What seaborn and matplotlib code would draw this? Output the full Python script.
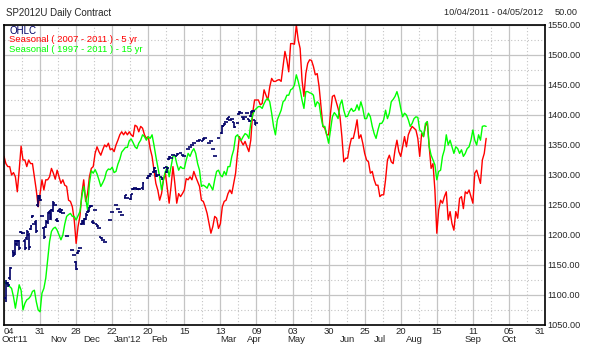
import numpy as np
import pandas as pd
import matplotlib.pyplot as plt
import matplotlib.transforms as mtransforms
import seaborn as sns

# x axis is a trading-day index counted from 10/04/2011
tick_days = [0, 19, 38, 57, 76, 95, 114, 133, 152, 171, 190, 209, 228, 247, 266, 285]
tick_labels = ['04', '31', '28', '22', '20', '15', '13', '09', '03', '30', '25', '20', '15', '11', '05', '31']
month_labels = ["Oct'11", 'Nov', 'Dec', "Jan'12", 'Feb', 'Mar', 'Apr', 'May', 'Jun', 'Jul', 'Aug', 'Sep', 'Oct']
month_days = [5.5, 29, 46, 65, 82, 118, 132, 154, 181, 198, 216, 247, 266]

# Seasonal ( 2007 - 2011 ) - 5 yr
seasonal_5yr = [
    1331, 1319, 1314, 1314, 1300, 1304, 1297, 1272, 1308, 1348,
    1325, 1325, 1314, 1325, 1319, 1319, 1297, 1275, 1247, 1269,
    1292, 1275, 1292, 1292, 1297, 1311, 1303, 1293, 1308, 1297,
    1286, 1292, 1283, 1281, 1258, 1256, 1247, 1225, 1186, 1214,
    1231, 1269, 1292, 1256, 1269, 1297, 1311, 1314, 1336, 1347,
    1339, 1333, 1342, 1350, 1347, 1353, 1342, 1344, 1339, 1350,
    1358, 1367, 1372, 1367, 1372, 1367, 1372, 1367, 1364, 1383,
    1381, 1372, 1381, 1378, 1367, 1361, 1364, 1344, 1331, 1308,
    1286, 1275, 1258, 1269, 1292, 1303, 1278, 1253, 1281, 1314,
    1286, 1253, 1269, 1264, 1269, 1275, 1294, 1292, 1297, 1292,
    1306, 1297, 1289, 1281, 1258, 1256, 1247, 1236, 1219, 1203,
    1214, 1231, 1228, 1211, 1219, 1247, 1256, 1258, 1269, 1275,
    1269, 1286, 1303, 1336, 1364, 1356, 1350, 1356, 1347, 1339,
    1358, 1403, 1425, 1425, 1425, 1417, 1419, 1442, 1433, 1425,
    1447, 1461, 1456, 1456, 1458, 1459, 1456, 1481, 1506, 1492,
    1472, 1519, 1519, 1518, 1550, 1525, 1511, 1458, 1431, 1469,
    1486, 1492, 1491, 1481, 1467, 1469, 1447, 1414, 1381, 1378,
    1367, 1367, 1403, 1431, 1433, 1422, 1411, 1397, 1364, 1322,
    1328, 1328, 1347, 1361, 1361, 1375, 1392, 1361, 1367, 1353,
    1336, 1325, 1322, 1303, 1306, 1292, 1283, 1283, 1264, 1267,
    1267, 1292, 1325, 1333, 1322, 1319, 1342, 1358, 1339, 1331,
    1347, 1364, 1347, 1367, 1375, 1381, 1378, 1375, 1361, 1331,
    1369, 1364, 1381, 1389, 1347, 1311, 1319, 1275, 1203, 1242,
    1258, 1253, 1264, 1272, 1225, 1239, 1219, 1208, 1239, 1228,
    1261, 1264, 1244, 1272, 1269, 1275, 1264, 1253, 1303, 1308,
    1297, 1286, 1325, 1336, 1361,
]

# Seasonal ( 1997 - 2011 ) - 15 yr
seasonal_15yr = [
    1122, 1119, 1117, 1114, 1111, 1097, 1078, 1097, 1117, 1108,
    1075, 1086, 1092, 1094, 1098, 1106, 1108, 1089, 1075, 1072,
    1103, 1111, 1128, 1158, 1189, 1206, 1211, 1213, 1208, 1200,
    1192, 1200, 1218, 1231, 1234, 1236, 1231, 1231, 1225, 1232,
    1239, 1264, 1281, 1261, 1242, 1286, 1307, 1303, 1309, 1302,
    1292, 1281, 1287, 1294, 1306, 1310, 1309, 1313, 1304, 1306,
    1318, 1326, 1338, 1342, 1346, 1346, 1357, 1360, 1354, 1347,
    1344, 1353, 1358, 1367, 1364, 1358, 1364, 1361, 1367, 1350,
    1331, 1314, 1297, 1275, 1292, 1306, 1314, 1297, 1314, 1331,
    1333, 1319, 1308, 1314, 1311, 1311, 1325, 1336, 1331, 1339,
    1344, 1336, 1319, 1308, 1281, 1283, 1281, 1278, 1286, 1281,
    1275, 1292, 1306, 1308, 1300, 1297, 1306, 1300, 1314, 1314,
    1331, 1342, 1364, 1367, 1361, 1358, 1364, 1369, 1367, 1361,
    1386, 1400, 1408, 1411, 1414, 1414, 1411, 1419, 1425, 1428,
    1422, 1403, 1381, 1367, 1392, 1400, 1408, 1422, 1425, 1433,
    1433, 1442, 1444, 1450, 1467, 1456, 1442, 1425, 1411, 1439,
    1439, 1437, 1436, 1433, 1414, 1422, 1419, 1397, 1381, 1381,
    1367, 1353, 1375, 1397, 1404, 1400, 1394, 1417, 1425, 1408,
    1397, 1398, 1406, 1411, 1406, 1408, 1417, 1408, 1422, 1411,
    1394, 1394, 1403, 1397, 1381, 1369, 1361, 1375, 1386, 1386,
    1392, 1408, 1394, 1403, 1422, 1426, 1431, 1439, 1428, 1411,
    1397, 1403, 1400, 1392, 1381, 1386, 1394, 1397, 1396, 1375,
    1372, 1364, 1386, 1389, 1347, 1333, 1325, 1317, 1292, 1306,
    1308, 1331, 1342, 1367, 1350, 1358, 1347, 1336, 1347, 1344,
    1336, 1342, 1331, 1336, 1344, 1347, 1358, 1375, 1358, 1350,
    1367, 1358, 1381, 1382, 1381,
]

# SP2012U daily bars
ohlc_day = [1, 2, 3, 5, 6, 7, 8, 9, 10, 11, 12, 13, 14, 15, 16, 17, 18, 19, 20, 21,
            22, 23, 24, 25, 26, 27, 28, 29, 30, 31, 33, 36, 37, 38, 39, 40, 41, 42, 43, 44,
            45, 46, 47, 48, 49, 50, 51, 52, 53, 56, 57, 59, 60, 61, 62, 64, 65, 67, 68, 69,
            70, 71, 73, 76, 77, 79, 80, 81, 83, 85, 86, 87, 88, 89, 91, 93, 94, 95, 97, 98,
            99, 100, 102, 103, 105, 106, 108, 109, 110, 111, 113, 115, 116, 117, 118, 119, 120, 121, 123, 124,
            125, 126, 127, 128, 129, 130, 131, 132, 133]
ohlc_open = [1095, 1120, 1128, 1172, 1170, 1185, 1190, 1205, 1203, 1190, 1195, 1200, 1210, 1230, 1219, 1222, 1250, 1265, 1231, 1212,
             1213, 1222, 1238, 1230, 1242, 1250, 1225, 1240, 1238, 1236, 1198, 1175, 1167, 1155, 1170, 1179, 1218, 1220, 1226, 1238,
             1240, 1248, 1222, 1242, 1218, 1211, 1197, 1192, 1189, 1225, 1239, 1250, 1243, 1239, 1233, 1262, 1261, 1260, 1276, 1278,
             1276, 1277, 1278, 1295, 1298, 1305, 1306, 1300, 1296, 1312, 1305, 1326, 1328, 1333, 1332, 1336, 1333, 1331, 1344, 1347,
             1350, 1353, 1356, 1358, 1357, 1361, 1353, 1356, 1344, 1331, 1361, 1370, 1382, 1389, 1393, 1392, 1393, 1388, 1386, 1401,
             1403, 1396, 1397, 1403, 1393, 1398, 1407, 1391, 1386]
ohlc_high = [1125, 1122, 1147, 1175, 1192, 1192, 1192, 1206, 1203, 1194, 1208, 1203, 1217, 1233, 1219, 1225, 1267, 1267, 1231, 1214,
             1225, 1239, 1242, 1244, 1256, 1250, 1228, 1244, 1243, 1236, 1198, 1175, 1167, 1156, 1175, 1179, 1225, 1228, 1236, 1242,
             1247, 1250, 1225, 1242, 1219, 1211, 1197, 1192, 1189, 1225, 1239, 1250, 1243, 1239, 1233, 1267, 1261, 1269, 1278, 1278,
             1278, 1278, 1289, 1300, 1303, 1314, 1308, 1300, 1297, 1314, 1314, 1331, 1328, 1333, 1336, 1336, 1333, 1331, 1344, 1347,
             1350, 1353, 1356, 1358, 1361, 1361, 1353, 1356, 1344, 1331, 1361, 1383, 1386, 1389, 1397, 1392, 1393, 1389, 1386, 1406,
             1403, 1397, 1397, 1403, 1394, 1406, 1408, 1392, 1386]
ohlc_low = [1089, 1114, 1125, 1164, 1167, 1181, 1175, 1203, 1203, 1175, 1192, 1175, 1208, 1228, 1219, 1203, 1247, 1256, 1231, 1194,
            1211, 1219, 1225, 1225, 1239, 1250, 1222, 1239, 1237, 1236, 1198, 1175, 1167, 1142, 1169, 1179, 1217, 1217, 1225, 1236,
            1239, 1247, 1219, 1242, 1214, 1211, 1194, 1192, 1189, 1225, 1239, 1250, 1243, 1239, 1233, 1261, 1261, 1258, 1275, 1278,
            1275, 1275, 1275, 1294, 1297, 1303, 1297, 1300, 1292, 1311, 1303, 1325, 1328, 1333, 1331, 1336, 1333, 1331, 1344, 1347,
            1350, 1353, 1356, 1358, 1356, 1361, 1353, 1356, 1344, 1331, 1361, 1369, 1381, 1389, 1392, 1392, 1393, 1378, 1386, 1400,
            1403, 1392, 1397, 1403, 1389, 1397, 1406, 1383, 1386]
ohlc_close = [1120, 1116, 1145, 1166, 1190, 1190, 1178, 1204, 1203, 1178, 1205, 1180, 1215, 1232, 1219, 1206, 1262, 1258, 1231, 1197,
              1222, 1236, 1228, 1242, 1253, 1250, 1224, 1243, 1242, 1236, 1198, 1175, 1167, 1144, 1174, 1179, 1224, 1226, 1234, 1240,
              1246, 1249, 1220, 1242, 1215, 1211, 1195, 1192, 1189, 1225, 1239, 1250, 1243, 1239, 1233, 1266, 1261, 1268, 1277, 1278,
              1277, 1276, 1287, 1299, 1302, 1312, 1299, 1300, 1293, 1313, 1312, 1330, 1328, 1333, 1335, 1336, 1333, 1331, 1344, 1347,
              1350, 1353, 1356, 1358, 1360, 1361, 1353, 1356, 1344, 1331, 1361, 1381, 1385, 1389, 1396, 1392, 1393, 1380, 1386, 1405,
              1403, 1393, 1397, 1403, 1390, 1405, 1407, 1384, 1386]

sns.set_style('white')
plt.rcParams['font.family'] = ['Liberation Sans', 'DejaVu Sans']
plt.rcParams['font.size'] = 7

fig = plt.figure(figsize=(5.95, 3.55), dpi=100)
ax = fig.add_axes([4 / 595, 30 / 355, 541 / 595, 300 / 355])

df = pd.concat([
    pd.DataFrame({'day': np.arange(len(seasonal_5yr)), 'price': seasonal_5yr, 'series': '5yr'}),
    pd.DataFrame({'day': np.arange(len(seasonal_15yr)), 'price': seasonal_15yr, 'series': '15yr'}),
])
sns.lineplot(data=df, x='day', y='price', hue='series', hue_order=['5yr', '15yr'],
             palette={'5yr': '#ff0000', '15yr': '#00ff00'}, estimator=None,
             linewidth=1.0, legend=False, ax=ax)

navy = '#000066'
ax.vlines(ohlc_day, ohlc_low, ohlc_high, color=navy, lw=1.2, zorder=4)
ax.hlines(ohlc_open, np.array(ohlc_day) - 1.0, ohlc_day, color=navy, lw=1.2, zorder=4)
ax.hlines(ohlc_close, ohlc_day, np.array(ohlc_day) + 1.0, color=navy, lw=1.2, zorder=4)

ax.set_xlim(0, 285)
ax.set_ylim(1050, 1550)
ax.set_xticks(tick_days)
ax.set_xticklabels(tick_labels)
ax.set_xticks([d + 9.5 for d in tick_days[:-1]], minor=True)
ax.set_yticks(np.arange(1050, 1551, 50))
ax.set_yticks(np.arange(1075, 1550, 50), minor=True)
ax.yaxis.tick_right()
ax.yaxis.set_major_formatter(plt.FormatStrFormatter('%.2f'))
ax.tick_params(which='both', length=0)
ax.tick_params(axis='x', pad=1.5, labelsize=6.8)
ax.tick_params(axis='y', pad=2, labelsize=6.6)
labels = ax.get_xticklabels()
labels[0].set_ha('left')
labels[-1].set_ha('right')
ax.set_xlabel('')
ax.set_ylabel('')

ax.grid(which='major', color='#c4c4c4', lw=0.9, ls='-')
ax.grid(which='minor', color='#c4c4c4', lw=0.8, ls=(0, (1, 2)))
ax.set_axisbelow(True)
for s in ax.spines.values():
    s.set_color('black')
    s.set_linewidth(1.2)

trans = mtransforms.blended_transform_factory(ax.transData, ax.transAxes)
for d, m in zip(month_days, month_labels):
    ax.text(d, -0.05, m, transform=trans, ha='center', va='center', fontsize=6.8)

fig.text(6 / 595, 1 - 12.5 / 355, 'SP2012U Daily Contract', fontsize=7, va='center', ha='left')
fig.text(543 / 595, 1 - 12.5 / 355, '10/04/2011 - 04/05/2012', fontsize=6.6, va='center', ha='right')
fig.text(578 / 595, 1 - 12.5 / 355, '50.00', fontsize=6.6, va='center', ha='right')

fig.text(9 / 595, 1 - 31 / 355, 'OHLC', color=navy, fontsize=7, va='center')
fig.text(9 / 595, 1 - 40 / 355, 'Seasonal ( 2007 - 2011 ) - 5 yr', color='#ff0000', fontsize=6.8, va='center')
fig.text(9 / 595, 1 - 49 / 355, 'Seasonal ( 1997 - 2011 ) - 15 yr', color='#00ff00', fontsize=6.8, va='center')

fig.savefig('out.png', dpi=100)
